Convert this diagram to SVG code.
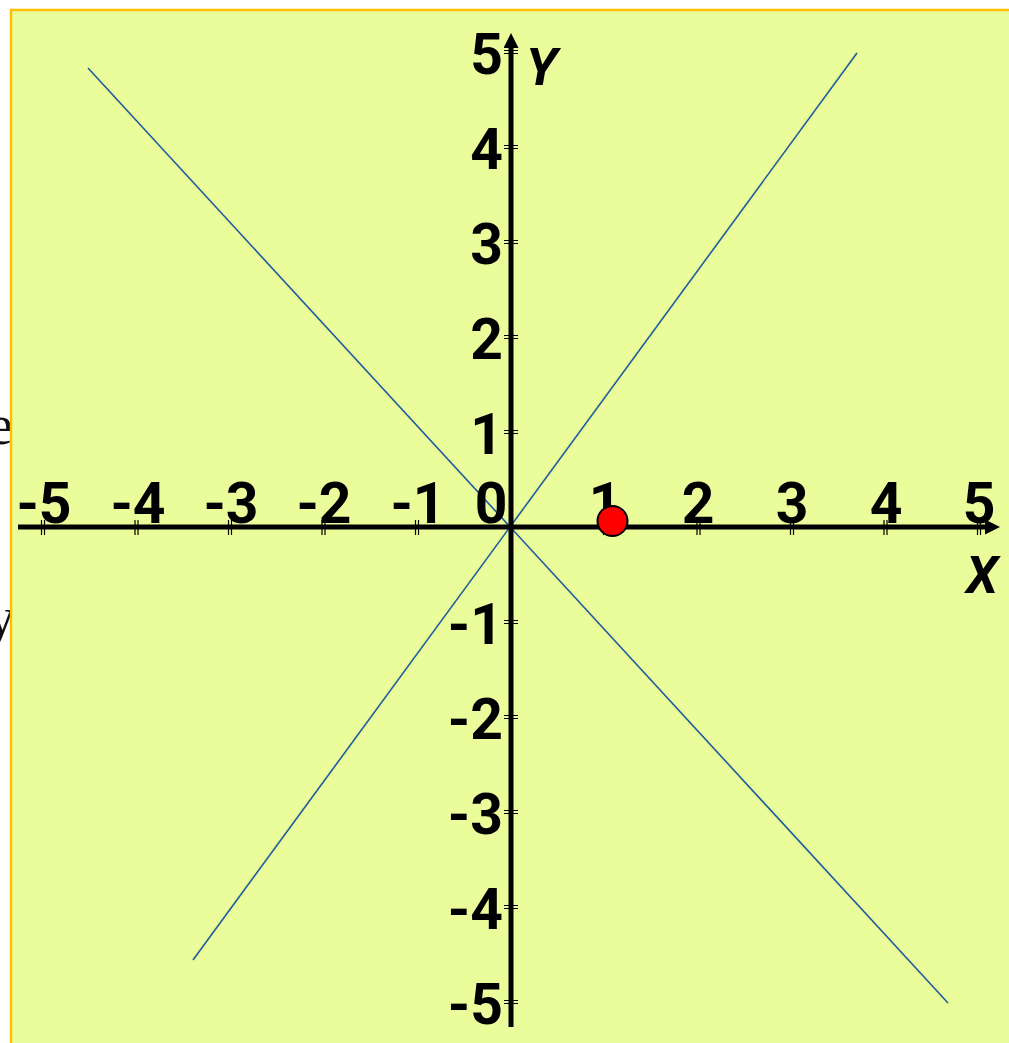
<svg xmlns="http://www.w3.org/2000/svg" width="1009" height="1043" viewBox="0 0 1009 1043">
<defs>
<style>
.lbl{font-family:Roboto,"Liberation Sans",sans-serif;font-weight:bold;font-size:57px;fill:#000}
.ax{font-family:Roboto,"Liberation Sans",sans-serif;font-weight:bold;font-style:italic;font-size:52px;fill:#000}
.axis{stroke:#000;stroke-width:5;fill:none}
.tk{stroke:#000;stroke-width:1.2}
.diag{stroke:#1c5d9c;stroke-width:1.6;fill:none}
.bg{font-family:"Liberation Serif",serif;font-size:56px;fill:#111}
</style>
<marker id="arr" viewBox="0 0 10 10" refX="2" refY="5" markerWidth="3.2" markerHeight="3" orient="auto" markerUnits="strokeWidth">
<path d="M0,0 L10,5 L0,10 z" fill="#000"/>
</marker>
</defs>
<rect width="1009" height="1043" fill="#ffffff"/>
<text class="bg" x="-12" y="444">e</text>
<text class="bg" x="-13" y="636">y</text>
<rect x="11" y="10" width="1010" height="1045" fill="#ebfd9b" stroke="#ffc000" stroke-width="2.5"/>

<g id="connectors">
<line class="diag" x1="88" y1="68" x2="948" y2="1003"/>
<line class="diag" x1="857" y1="53" x2="193" y2="960"/>
<line id="x-axis" class="axis" x1="18" y1="527" x2="988" y2="527" marker-end="url(#arr)"/>
<line id="y-axis" class="axis" x1="511" y1="1027" x2="511" y2="45" marker-end="url(#arr)"/>
</g>

<g id="ticks">
<path class="tk" d="M41.5,520v15M44.5,520v15M135,520v15M138,520v15M228.5,520v15M231.5,520v15M322,520v15M325,520v15M415.5,520v15M418.5,520v15M603.5,520v15M606.5,520v15M697,520v15M700,520v15M790.5,520v15M793.5,520v15M884,520v15M887,520v15M977.5,520v15M980.5,520v15"/>
<path class="tk" d="M504,50.5h14M504,53.5h14M504,145.5h14M504,148.5h14M504,240.5h14M504,243.5h14M504,335.5h14M504,338.5h14M504,430.5h14M504,433.5h14M504,620.5h14M504,623.5h14M504,715.5h14M504,718.5h14M504,810.5h14M504,813.5h14M504,905.5h14M504,908.5h14M504,1000.5h14M504,1003.5h14"/>
</g>

<g id="x-labels" class="lbl" text-anchor="middle">
<text x="44" y="523">-5</text>
<text x="138" y="523">-4</text>
<text x="231" y="523">-3</text>
<text x="324" y="523">-2</text>
<text x="418" y="523">-1</text>
<text x="491" y="523">0</text>
<text x="605" y="523">1</text>
<text x="698" y="523">2</text>
<text x="792" y="523">3</text>
<text x="886" y="523">4</text>
<text x="979" y="523">5</text>
</g>

<g id="y-labels" class="lbl" text-anchor="end">
<text x="503" y="74">5</text>
<text x="503" y="169">4</text>
<text x="503" y="264">3</text>
<text x="503" y="359">2</text>
<text x="503" y="454">1</text>
<text x="503" y="644">-1</text>
<text x="503" y="739">-2</text>
<text x="503" y="834">-3</text>
<text x="503" y="929">-4</text>
<text x="503" y="1024">-5</text>
</g>

<g id="axis-names" class="ax">
<text x="526" y="85">Y</text>
<text x="966" y="593">X</text>
</g>

<g id="point">
<circle cx="612.5" cy="521" r="15" fill="#ff0000" stroke="#000" stroke-width="2"/>
</g>
</svg>
